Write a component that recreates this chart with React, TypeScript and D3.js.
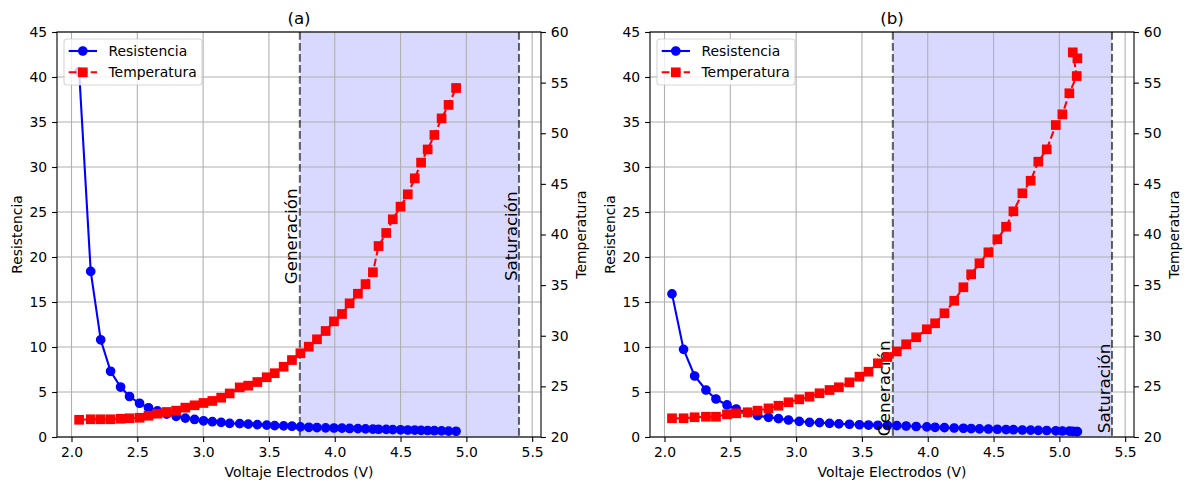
import * as d3 from "d3";
import React, { useEffect, useRef } from "react";

// panel (a)
const voltajeA = [2.058, 2.146, 2.222, 2.297, 2.373, 2.441, 2.517, 2.585, 2.653, 2.723, 2.795, 2.865, 2.935, 3.003, 3.07, 3.137, 3.202, 3.278, 3.343, 3.412, 3.483, 3.544, 3.612, 3.675, 3.739, 3.803, 3.865, 3.931, 3.994, 4.055, 4.113, 4.176, 4.234, 4.29, 4.333, 4.391, 4.441, 4.5, 4.555, 4.608, 4.656, 4.706, 4.757, 4.812, 4.865, 4.922];
const resistenciaA = [40.6, 18.4, 10.8, 7.3, 5.55, 4.5, 3.75, 3.25, 2.9, 2.55, 2.3, 2.1, 1.95, 1.8, 1.7, 1.62, 1.52, 1.48, 1.43, 1.37, 1.32, 1.27, 1.24, 1.2, 1.12, 1.08, 1.05, 1.02, 1.0, 0.98, 0.95, 0.93, 0.9, 0.88, 0.86, 0.84, 0.82, 0.8, 0.78, 0.76, 0.74, 0.72, 0.7, 0.68, 0.66, 0.64];
const temperaturaA = [21.7, 21.75, 21.75, 21.75, 21.8, 21.85, 21.9, 22.1, 22.3, 22.47, 22.6, 22.9, 23.13, 23.36, 23.56, 23.88, 24.3, 24.9, 25.07, 25.43, 25.9, 26.3, 26.94, 27.6, 28.27, 28.92, 29.65, 30.47, 31.42, 32.15, 33.2, 34.15, 35.1, 36.27, 38.86, 40.15, 41.5, 42.75, 43.97, 45.55, 47.1, 48.4, 49.83, 51.47, 52.8, 54.47];

// panel (b)
const voltajeB = [2.057, 2.145, 2.229, 2.315, 2.391, 2.475, 2.545, 2.631, 2.707, 2.79, 2.866, 2.942, 3.024, 3.102, 3.178, 3.254, 3.325, 3.405, 3.481, 3.55, 3.621, 3.694, 3.765, 3.836, 3.912, 3.993, 4.056, 4.127, 4.201, 4.271, 4.33, 4.393, 4.461, 4.529, 4.595, 4.651, 4.719, 4.782, 4.84, 4.904, 4.973, 5.023, 5.076, 5.132, 5.102, 5.137];
const resistenciaB = [15.9, 9.74, 6.78, 5.22, 4.22, 3.56, 3.11, 2.7, 2.37, 2.19, 2.04, 1.89, 1.74, 1.63, 1.6, 1.52, 1.46, 1.42, 1.36, 1.33, 1.3, 1.28, 1.26, 1.22, 1.17, 1.12, 1.08, 1.04, 1.0, 0.97, 0.94, 0.91, 0.89, 0.86, 0.83, 0.81, 0.78, 0.76, 0.74, 0.72, 0.69, 0.67, 0.65, 0.61, 0.62, 0.59];
const temperaturaB = [21.85, 21.85, 21.95, 22.0, 22.0, 22.24, 22.34, 22.44, 22.6, 22.83, 23.09, 23.43, 23.72, 23.98, 24.32, 24.64, 24.91, 25.4, 25.96, 26.45, 27.28, 27.9, 28.45, 29.16, 29.85, 30.64, 31.23, 32.22, 33.46, 34.79, 36.07, 37.16, 38.24, 39.53, 40.77, 42.29, 44.07, 45.31, 47.19, 48.41, 50.81, 51.87, 53.95, 55.65, 57.99, 57.4];

const xTicks = [2.0, 2.5, 3.0, 3.5, 4.0, 4.5, 5.0, 5.5];
const resTicks = [0, 5, 10, 15, 20, 25, 30, 35, 40, 45];
const tempTicks = [20, 25, 30, 35, 40, 45, 50, 55, 60];
const titulos = ["(a)", "(b)"];
const inicioGeneracion = 3.735;
const finSaturacion = 5.4;
// height (in Resistencia units) of the region labels
const alturaEtiqueta = [22.3, 5.4];

const W = 1189;
const H = 490;
const top = 32;
const bottom = 437;
const plotW = 484;
const lefts = [57, 650];
const font = "DejaVu Sans, sans-serif";
const fs = 13.9;
const ms = 8.3; // marker size
const mew = 1.39; // marker edge

type Panel = { v: number[]; r: number[]; t: number[] };
const panels: Panel[] = [
  { v: voltajeA, r: resistenciaA, t: temperaturaA },
  { v: voltajeB, r: resistenciaB, t: temperaturaB },
];

function drawPanel(svg: d3.Selection<SVGSVGElement, unknown, null, undefined>, p: Panel, i: number) {
  const left = lefts[i];
  const right = left + plotW;
  const vMin = d3.min([...voltajeA, ...voltajeB]) as number;
  const span = finSaturacion - vMin;
  const x = d3.scaleLinear().domain([vMin - 0.05 * span, finSaturacion + 0.05 * span]).range([left, right]);
  const yR = d3.scaleLinear().domain([0, 45]).range([bottom, top]);
  const yT = d3.scaleLinear().domain([20, 60]).range([bottom, top]);
  const g = svg.append("g");

  // shaded region
  g.append("rect")
    .attr("x", x(inicioGeneracion))
    .attr("y", top)
    .attr("width", x(finSaturacion) - x(inicioGeneracion))
    .attr("height", bottom - top)
    .attr("fill", "#0000ff")
    .attr("fill-opacity", 0.15);

  // grid
  g.append("g").selectAll("line").data(xTicks).join("line")
    .attr("x1", d => x(d)).attr("x2", d => x(d)).attr("y1", top).attr("y2", bottom)
    .attr("stroke", "#b0b0b0").attr("stroke-width", 1.1);
  g.append("g").selectAll("line").data(resTicks).join("line")
    .attr("x1", left).attr("x2", right).attr("y1", d => yR(d)).attr("y2", d => yR(d))
    .attr("stroke", "#b0b0b0").attr("stroke-width", 1.1);

  // region borders
  g.append("g").selectAll("line").data([inicioGeneracion, finSaturacion]).join("line")
    .attr("x1", d => x(d)).attr("x2", d => x(d)).attr("y1", top).attr("y2", bottom)
    .attr("stroke", "#000").attr("stroke-opacity", 0.6).attr("stroke-width", 2.08)
    .attr("stroke-dasharray", "7.7,3.3");

  // resistencia
  const lineR = d3.line<number>().x((_, k) => x(p.v[k])).y(d => yR(d));
  g.append("path").attr("d", lineR(p.r)).attr("fill", "none").attr("stroke", "#0000ff").attr("stroke-width", 2.08);
  g.append("g").selectAll("circle").data(p.r).join("circle")
    .attr("cx", (_, k) => x(p.v[k])).attr("cy", d => yR(d)).attr("r", ms / 2)
    .attr("fill", "#0000ff").attr("stroke", "#0000ff").attr("stroke-width", mew);

  // region labels
  const yl = yR(alturaEtiqueta[i]);
  [["Generación", inicioGeneracion], ["Saturación", finSaturacion]].forEach(([txt, v]) => {
    const xl = x(v as number) - 2.5;
    g.append("text")
      .attr("transform", `translate(${xl},${yl}) rotate(-90)`)
      .attr("text-anchor", "middle")
      .attr("font-family", font).attr("font-size", 16.7)
      .text(txt as string);
  });

  // legend
  const lg = g.append("g").attr("transform", `translate(${left + 7},${top + 7})`);
  lg.append("rect").attr("width", 138).attr("height", 46).attr("rx", 3).attr("fill", "#fff").attr("fill-opacity", 0.8)
    .attr("stroke", "#cccccc").attr("stroke-opacity", 0.8).attr("stroke-width", 1.1);
  lg.append("line").attr("x1", 4.7).attr("x2", 33).attr("y1", 12).attr("y2", 12).attr("stroke", "#0000ff").attr("stroke-width", 2.08);
  lg.append("circle").attr("cx", 18.8).attr("cy", 12).attr("r", ms / 2).attr("fill", "#0000ff")
    .attr("stroke", "#0000ff").attr("stroke-width", mew);
  lg.append("line").attr("x1", 4.7).attr("x2", 33).attr("y1", 33.3).attr("y2", 33.3).attr("stroke", "#ff0000").attr("stroke-width", 2.08).attr("stroke-dasharray", "7.7,3.3");
  lg.append("rect").attr("x", 18.8 - ms / 2).attr("y", 33.3 - ms / 2).attr("width", ms).attr("height", ms)
    .attr("fill", "#ff0000").attr("stroke", "#ff0000").attr("stroke-width", mew);
  lg.selectAll("text.lab").data(["Resistencia", "Temperatura"]).join("text")
    .attr("x", 44.5).attr("y", (_, k) => (k === 0 ? 12 : 33.3)).attr("dy", "0.35em")
    .attr("font-family", font).attr("font-size", fs).text(d => d);

  // temperatura (twin axis)
  const lineT = d3.line<number>().x((_, k) => x(p.v[k])).y(d => yT(d));
  g.append("path").attr("d", lineT(p.t)).attr("fill", "none").attr("stroke", "#ff0000").attr("stroke-width", 2.08)
    .attr("stroke-dasharray", "7.7,3.3");
  g.append("g").selectAll("rect").data(p.t).join("rect")
    .attr("x", (_, k) => x(p.v[k]) - ms / 2).attr("y", d => yT(d) - ms / 2)
    .attr("width", ms).attr("height", ms)
    .attr("fill", "#ff0000").attr("stroke", "#ff0000").attr("stroke-width", mew);

  // spines
  g.append("rect").attr("x", left).attr("y", top).attr("width", plotW).attr("height", bottom - top)
    .attr("fill", "none").attr("stroke", "#000").attr("stroke-width", 1.1);

  // axes
  const styleAxis = (a: d3.Selection<SVGGElement, unknown, null, undefined>) => {
    a.select(".domain").remove();
    a.selectAll("line").attr("stroke", "#000").attr("stroke-width", 1.1);
    a.selectAll("text").attr("font-family", font).attr("font-size", fs).attr("fill", "#000");
    a.attr("font-family", null).attr("font-size", null);
  };
  g.append("g").attr("transform", `translate(0,${bottom})`)
    .call(d3.axisBottom(x).tickValues(xTicks).tickFormat(d3.format(".1f")).tickSize(4.9).tickPadding(4.9))
    .call(styleAxis);
  g.append("g").attr("transform", `translate(${left},0)`)
    .call(d3.axisLeft(yR).tickValues(resTicks).tickFormat(d3.format("d")).tickSize(4.9).tickPadding(4.9))
    .call(styleAxis);
  g.append("g").attr("transform", `translate(${right},0)`)
    .call(d3.axisRight(yT).tickValues(tempTicks).tickFormat(d3.format("d")).tickSize(4.9).tickPadding(4.9))
    .call(styleAxis);

  // labels
  g.append("text").attr("x", left + plotW / 2).attr("y", top - 8.3).attr("text-anchor", "middle")
    .attr("font-family", font).attr("font-size", 16.7).text(titulos[i]);
  g.append("text").attr("x", left + plotW / 2).attr("y", 477).attr("text-anchor", "middle")
    .attr("font-family", font).attr("font-size", fs).text("Voltaje Electrodos (V)");
  g.append("text").attr("transform", `translate(${left - 35},${(top + bottom) / 2}) rotate(-90)`)
    .attr("text-anchor", "middle").attr("font-family", font).attr("font-size", fs).text("Resistencia");
  g.append("text").attr("transform", `translate(${right + 44.5},${(top + bottom) / 2}) rotate(-90)`)
    .attr("text-anchor", "middle").attr("font-family", font).attr("font-size", fs).text("Temperatura");
}

export default function App() {
  const ref = useRef<SVGSVGElement>(null);
  useEffect(() => {
    if (!ref.current) return;
    const svg = d3.select(ref.current);
    svg.selectAll("*").remove();
    svg.append("rect").attr("width", W).attr("height", H).attr("fill", "#fff");
    panels.forEach((p, i) => drawPanel(svg, p, i));
  }, []);
  return (
    <svg
      ref={ref}
      width={W}
      height={H}
      style={{ position: "absolute", left: 0, top: 0, display: "block" }}
    />
  );
}
